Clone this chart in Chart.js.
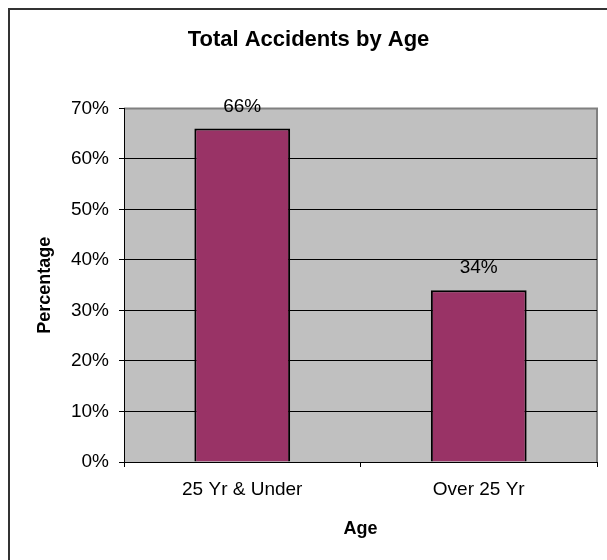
<!DOCTYPE html>
<html>
<head>
<meta charset="utf-8">
<script src="https://cdn.jsdelivr.net/npm/chart.js@4.4.1/dist/chart.umd.min.js"></script>
<style>
  html, body { margin: 0; padding: 0; background: #ffffff; }
  #wrap { width: 607px; height: 560px; }
</style>
</head>
<body>
<div id="wrap"><canvas id="c" width="607" height="560"></canvas></div>
<script>
const categories = ['25 Yr & Under', 'Over 25 Yr'];
const percentages = [66, 34];
const yTicks = [0, 10, 20, 30, 40, 50, 60, 70];
const chartTitle = 'Total Accidents by Age';
const xTitle = 'Age';
const yTitle = 'Percentage';

const FONT = "'Liberation Sans', Arial, sans-serif";

const framePlugin = {
  id: 'frame',
  beforeDraw(chart) {
    const ctx = chart.ctx;
    const a = chart.chartArea;
    ctx.save();
    ctx.fillStyle = '#ffffff';
    ctx.fillRect(0, 0, chart.width, chart.height);
    // outer chart frame (extends past right/bottom edges)
    ctx.strokeStyle = '#333333';
    ctx.lineWidth = 2;
    ctx.strokeRect(9, 9, 800, 800);
    // plot area
    ctx.fillStyle = '#C0C0C0';
    ctx.fillRect(a.left, a.top, a.right - a.left, a.bottom - a.top);
    ctx.strokeStyle = '#808080';
    ctx.lineWidth = 2;
    ctx.beginPath();
    ctx.moveTo(a.left, a.top);
    ctx.lineTo(a.right, a.top);
    ctx.lineTo(a.right, a.bottom);
    ctx.stroke();
    ctx.restore();
  }
};

const labelPlugin = {
  id: 'barLabels',
  afterDatasetsDraw(chart) {
    const ctx = chart.ctx;
    const meta = chart.getDatasetMeta(0);
    ctx.save();
    ctx.font = '19px ' + FONT;
    ctx.fillStyle = '#000000';
    ctx.textAlign = 'center';
    ctx.textBaseline = 'alphabetic';
    meta.data.forEach((bar, i) => {
      ctx.fillText(percentages[i] + '%', bar.x, bar.y - 17);
    });
    ctx.restore();
  }
};

new Chart(document.getElementById('c'), {
  type: 'bar',
  data: {
    labels: categories,
    datasets: [{
      data: percentages,
      backgroundColor: '#993366',
      borderColor: '#000000',
      borderWidth: 2,
      borderSkipped: 'start',
      barPercentage: 0.405,
      categoryPercentage: 1.0
    }]
  },
  options: {
    responsive: false,
    animation: false,
    devicePixelRatio: 1,
    layout: { padding: { left: 20, right: 10, top: 0, bottom: 0 } },
    plugins: {
      legend: { display: false },
      tooltip: { enabled: false },
      title: {
        display: true,
        text: chartTitle,
        color: '#000000',
        font: { family: FONT, size: 22, weight: 'bold' },
        padding: { top: 27, bottom: 55 }
      }
    },
    scales: {
      x: {
        offset: true,
        grid: {
          display: true,
          offset: true,
          drawOnChartArea: false,
          drawTicks: true,
          tickLength: 5,
          color: '#000000',
          tickColor: '#000000'
        },
        border: { display: true, color: '#000000', width: 1 },
        ticks: {
          color: '#000000',
          font: { family: FONT, size: 19 },
          padding: 11,
          maxRotation: 0
        },
        title: {
          display: true,
          text: xTitle,
          color: '#000000',
          font: { family: FONT, size: 18, weight: 'bold' },
          padding: { top: 0, bottom: 20 }
        },
        afterFit(scale) { scale.height = 98; }
      },
      y: {
        min: 0,
        max: 70,
        afterBuildTicks(scale) { scale.ticks = yTicks.map(v => ({ value: v })); },
        grid: {
          drawTicks: true,
          tickLength: 5,
          color: (c) => (c.tick && c.tick.value === 70) ? 'rgba(0,0,0,0)' : '#000000',
          tickColor: '#000000',
          lineWidth: 1
        },
        border: { display: true, color: '#000000', width: 1 },
        ticks: {
          color: '#000000',
          font: { family: FONT, size: 19 },
          padding: 10,
          callback: (v) => v + '%'
        },
        title: {
          display: true,
          text: yTitle,
          color: '#000000',
          font: { family: FONT, size: 18, weight: 'bold' },
          padding: { top: 14, bottom: 0 }
        },
        afterFit(scale) { scale.width = 104; }
      }
    }
  },
  plugins: [framePlugin, labelPlugin]
});
</script>
</body>
</html>
